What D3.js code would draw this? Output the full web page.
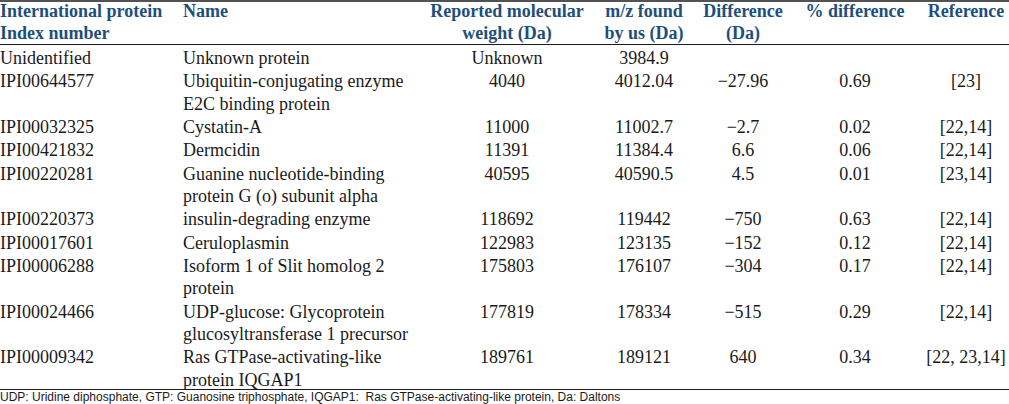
<!DOCTYPE html>
<html>
<head>
<meta charset="utf-8">
<script src="https://cdn.jsdelivr.net/npm/d3@7"></script>
<style>
  html, body { margin: 0; padding: 0; background: #fff; }
  svg { display: block; }
</style>
</head>
<body>
<svg width="1009" height="404"></svg>
<script>
// table content
const headers = [
  ['International protein', 'Index number'],
  ['Name'],
  ['Reported molecular', 'weight (Da)'],
  ['m/z found', 'by us (Da)'],
  ['Difference', '(Da)'],
  ['% difference'],
  ['Reference']
];
const ipiNumbers = ['Unidentified', 'IPI00644577', 'IPI00032325', 'IPI00421832', 'IPI00220281',
  'IPI00220373', 'IPI00017601', 'IPI00006288', 'IPI00024466', 'IPI00009342'];
const names = [
  ['Unknown protein'],
  ['Ubiquitin-conjugating enzyme', 'E2C binding protein'],
  ['Cystatin-A'],
  ['Dermcidin'],
  ['Guanine nucleotide-binding', 'protein G (o) subunit alpha'],
  ['insulin-degrading enzyme'],
  ['Ceruloplasmin'],
  ['Isoform 1 of Slit homolog 2', 'protein'],
  ['UDP-glucose: Glycoprotein', 'glucosyltransferase 1 precursor'],
  ['Ras GTPase-activating-like', 'protein IQGAP1']
];
const reportedMW = ['Unknown', '4040', '11000', '11391', '40595', '118692', '122983', '175803', '177819', '189761'];
const foundMZ = ['3984.9', '4012.04', '11002.7', '11384.4', '40590.5', '119442', '123135', '176107', '178334', '189121'];
const differences = ['', '\u221227.96', '\u22122.7', '6.6', '4.5', '\u2212750', '\u2212152', '\u2212304', '\u2212515', '640'];
const pctDiff = ['', '0.69', '0.02', '0.06', '0.01', '0.63', '0.12', '0.17', '0.29', '0.34'];
const references = ['', '[23]', '[22,14]', '[22,14]', '[23,14]', '[22,14]', '[22,14]', '[22,14]', '[22,14]', '[22, 23,14]'];
const footnote = 'UDP: Uridine diphosphate, GTP: Guanosine triphosphate, IQGAP1:  Ras GTPase-activating-like protein, Da: Daltons';

const svg = d3.select('svg');
const width = +svg.attr('width');

const serif = '"Liberation Serif", "Times New Roman", serif';
const fontSize = 18;
const headColor = '#1d4f7c';

// column positions
const cols = d3.range(7);
const colX = d3.scaleOrdinal().domain(cols).range([0, 183, 507, 644, 743, 855, 966]);
const colAnchor = d3.scaleOrdinal().domain(cols).range(['start', 'start', 'middle', 'middle', 'middle', 'middle', 'middle']);

const rowStep = 23.4;
const lineStep = 22.2;
const firstBase = 64;

// row baselines
const rows = ipiNumbers.map((id, i) => ({
  cells: [[id], names[i], [reportedMW[i]], [foundMZ[i]], [differences[i]], [pctDiff[i]], [references[i]]],
  lines: names[i].length
}));
let yy = firstBase;
rows.forEach(r => { r.y = yy; yy += rowStep + (r.lines - 1) * lineStep; });

// rules
const rules = [{ y: 1, w: 1.6 }, { y: 44.5, w: 1.2 }, { y: 389.5, w: 1.2 }];
svg.selectAll('line.rule')
  .data(rules)
  .enter().append('line')
  .attr('class', 'rule')
  .attr('x1', 0).attr('x2', width)
  .attr('y1', d => d.y).attr('y2', d => d.y)
  .attr('stroke', '#1a1a1a')
  .attr('stroke-width', d => d.w);

// header
const head = svg.append('g');
head.selectAll('text')
  .data(headers)
  .enter().append('text')
  .attr('x', (_, i) => colX(i))
  .attr('y', 17)
  .attr('text-anchor', (_, i) => colAnchor(i))
  .attr('font-family', serif)
  .attr('font-size', fontSize)
  .attr('font-weight', 'bold')
  .attr('fill', headColor)
  .each(function(lines, i) {
    d3.select(this).selectAll('tspan')
      .data(lines)
      .enter().append('tspan')
      .attr('x', colX(i))
      .attr('dy', (_, k) => k === 0 ? 0 : 22)
      .text(t => t);
  });

// body
const body = svg.append('g');
const rowG = body.selectAll('g.row')
  .data(rows)
  .enter().append('g')
  .attr('class', 'row')
  .attr('transform', d => 'translate(0,' + d.y + ')');

rowG.selectAll('text')
  .data(d => d.cells)
  .enter().append('text')
  .attr('x', (_, i) => colX(i))
  .attr('text-anchor', (_, i) => colAnchor(i))
  .attr('font-family', serif)
  .attr('font-size', fontSize)
  .attr('fill', '#1a1a1a')
  .each(function(lines, i) {
    d3.select(this).selectAll('tspan')
      .data(lines)
      .enter().append('tspan')
      .attr('x', colX(i))
      .attr('dy', (_, k) => k === 0 ? 0 : lineStep)
      .text(t => t);
  });

// footnote
svg.append('text')
  .attr('x', 0)
  .attr('y', 400.5)
  .attr('font-family', '"Liberation Sans", Arial, sans-serif')
  .attr('font-size', 12)
  .attr('fill', '#1a1a1a')
  .style('white-space', 'pre')
  .text(footnote);
</script>
</body>
</html>
